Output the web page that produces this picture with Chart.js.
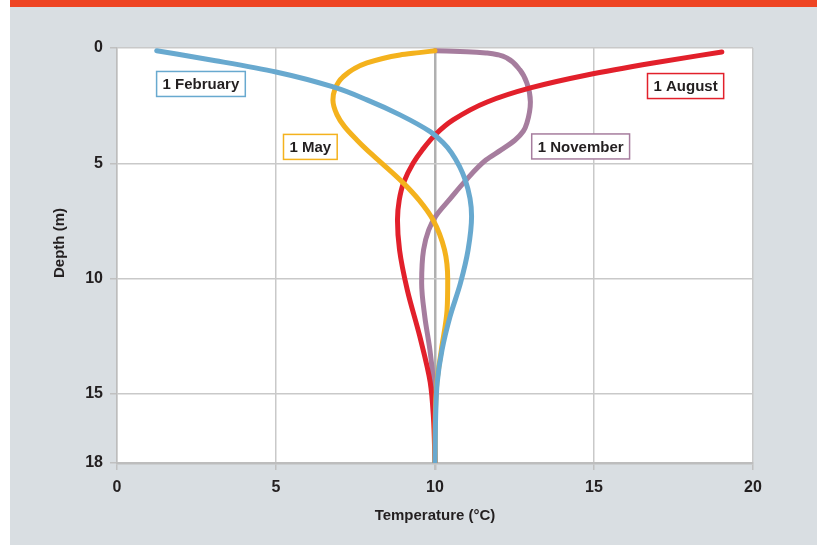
<!DOCTYPE html>
<html>
<head>
<meta charset="utf-8">
<script src="https://cdn.jsdelivr.net/npm/chart.js@4.4.1/dist/chart.umd.min.js"></script>
<style>
  html, body { margin: 0; padding: 0; background: #ffffff; }
  #wrap { width: 817px; height: 545px; position: relative; }
</style>
</head>
<body>
<div id="wrap"><canvas id="c" width="817" height="545"></canvas></div>
<script>
// ---- Data (temperature in °C vs depth in m) ----
const depthFeb = [0.12, 0.55, 1.04, 1.69, 2.25, 2.9, 3.64, 4.1, 4.55, 5.72, 7.3, 8.76, 10.2, 11.66, 13.1, 14.5, 16.0, 18.0];
const tempFeb  = [1.25, 3.1, 5.0, 6.8, 7.86, 8.9, 9.86, 10.25, 10.52, 10.95, 11.15, 11.04, 10.8, 10.47, 10.22, 10.07, 10.02, 10.0];

const depthMay = [0.12, 0.2, 0.3, 0.65, 1.26, 1.8, 2.25, 2.9, 3.4, 4.0, 4.42, 5.0, 5.85, 6.6, 7.46, 8.76, 10.06, 11.36, 13.1, 14.5, 16.0, 18.0];
const tempMay  = [10.0, 9.5, 8.9, 7.86, 7.1, 6.85, 6.79, 6.92, 7.15, 7.55, 7.86, 8.33, 9.0, 9.5, 9.94, 10.3, 10.4, 10.38, 10.2, 10.06, 10.01, 10.0];

const depthAug = [0.17, 0.65, 1.17, 1.73, 2.34, 3.12, 3.77, 4.42, 5.0, 5.85, 6.6, 7.46, 8.76, 10.5, 12.5, 14.5, 16.0, 18.0];
const tempAug  = [19.02, 16.86, 14.78, 13.0, 11.64, 10.57, 10.0, 9.6, 9.31, 9.01, 8.875, 8.82, 8.885, 9.13, 9.52, 9.85, 9.95, 10.0];

const depthNov = [0.12, 0.16, 0.22, 0.3, 0.43, 0.95, 1.52, 2.34, 3.25, 3.6, 3.99, 4.42, 4.86, 5.85, 6.5, 7.3, 7.9, 8.76, 10.2, 11.66, 13.1, 14.5, 16.0, 18.0];
const tempNov  = [10.0, 11.0, 11.64, 12.0, 12.26, 12.67, 12.89, 13.0, 12.89, 12.78, 12.52, 12.08, 11.6, 10.9, 10.5, 10.02, 9.8, 9.64, 9.58, 9.68, 9.84, 9.95, 9.99, 10.0];

const seriesNames = ['1 February', '1 May', '1 August', '1 November'];
const xTicks = [0, 5, 10, 15, 20];
const yTicks = [0, 5, 10, 15, 18];
// label anchor points in data units (temperature, depth)
const labelTemp  = [2.64, 6.08, 17.88, 14.58];
const labelDepth = [1.56, 4.29, 1.65, 4.27];

const colors = ['#68a9cf', '#f4b21d', '#e2202b', '#a67d9e'];
const TEXT = '#231f20';
const FONT = '"Liberation Sans", Arial, sans-serif';

function pts(t, d) { return t.map((v, i) => ({ x: v, y: d[i] })); }

const bgPlugin = {
  id: 'bg',
  beforeDraw(chart) {
    const { ctx, width, height, chartArea: a } = chart;
    ctx.save();
    ctx.fillStyle = '#ffffff';
    ctx.fillRect(0, 0, width, height);
    ctx.fillStyle = '#d9dee2';
    ctx.fillRect(10, 0, width - 10, height);
    ctx.fillStyle = '#ee4423';
    ctx.fillRect(10, 0, width - 10, 7);
    ctx.fillStyle = '#ffffff';
    ctx.fillRect(a.left, a.top, a.right - a.left, a.bottom - a.top);
    ctx.restore();
  },
  afterDraw(chart) {
    const { ctx } = chart;
    ctx.save();
    ctx.translate(60, 243);
    ctx.rotate(-Math.PI / 2);
    ctx.font = 'bold 15px ' + FONT;
    ctx.fillStyle = TEXT;
    ctx.textAlign = 'center';
    ctx.textBaseline = 'middle';
    ctx.fillText('Depth (m)', 0, 0);
    ctx.restore();
  }
};

const labelPlugin = {
  id: 'lbls',
  afterDatasetsDraw(chart) {
    const { ctx, scales } = chart;
    ctx.save();
    ctx.font = 'bold 15px ' + FONT;
    ctx.textAlign = 'center';
    ctx.textBaseline = 'middle';
    seriesNames.forEach((name, i) => {
      const cx = scales.x.getPixelForValue(labelTemp[i]);
      const cy = scales.y.getPixelForValue(labelDepth[i]);
      const w = ctx.measureText(name).width + 12;
      const h = 25;
      ctx.fillStyle = '#ffffff';
      ctx.fillRect(cx - w / 2, cy - h / 2, w, h);
      ctx.strokeStyle = colors[i];
      ctx.lineWidth = 1.5;
      ctx.strokeRect(cx - w / 2, cy - h / 2, w, h);
      ctx.fillStyle = TEXT;
      ctx.fillText(name, cx, cy + 1);
    });
    ctx.restore();
  }
};

const dsBase = { showLine: true, pointRadius: 0, borderWidth: 5, indexAxis: 'y', cubicInterpolationMode: 'monotone', fill: false, borderCapStyle: 'round', borderJoinStyle: 'round' };

new Chart(document.getElementById('c'), {
  type: 'scatter',
  data: {
    datasets: [
      Object.assign({ label: seriesNames[0], data: pts(tempFeb, depthFeb), borderColor: colors[0] }, dsBase),
      Object.assign({ label: seriesNames[1], data: pts(tempMay, depthMay), borderColor: colors[1] }, dsBase),
      Object.assign({ label: seriesNames[2], data: pts(tempAug, depthAug), borderColor: colors[2] }, dsBase),
      Object.assign({ label: seriesNames[3], data: pts(tempNov, depthNov), borderColor: colors[3] }, dsBase)
    ]
  },
  options: {
    responsive: false,
    animation: false,
    devicePixelRatio: 1,
    indexAxis: 'y',
    layout: { padding: { left: 0, top: 48, right: 64, bottom: 20 } },
    plugins: { legend: { display: false }, tooltip: { enabled: false } },
    scales: {
      x: {
        type: 'linear', position: 'bottom', min: 0, max: 20,
        afterBuildTicks(s) { s.ticks = xTicks.map(v => ({ value: v })); },
        afterFit(s) { s.height = 62; },
        ticks: { color: TEXT, font: { family: FONT, size: 16, weight: 'bold' }, padding: 8, maxRotation: 0 },
        grid: {
          color: c => (c.tick && c.tick.value === 10 ? '#b0b0b0' : '#c9c9c9'),
          lineWidth: c => (c.tick && c.tick.value === 10 ? 2.5 : 1.5),
          tickColor: '#c0c0c0', tickLength: 7, drawTicks: true
        },
        border: { color: '#bdbdbd', width: 2.5 },
        title: { display: true, text: 'Temperature (°C)', color: TEXT, font: { family: FONT, size: 15, weight: 'bold' }, padding: { top: 0, bottom: 0 } }
      },
      y: {
        type: 'linear', position: 'left', min: 0, max: 18, reverse: true,
        afterBuildTicks(s) { s.ticks = yTicks.map(v => ({ value: v })); },
        afterFit(s) { s.width = 117; },
        ticks: { color: TEXT, font: { family: FONT, size: 16, weight: 'bold' }, padding: 7 },
        grid: { color: '#c9c9c9', lineWidth: 1.5, tickColor: '#c0c0c0', tickLength: 7, drawTicks: true },
        border: { color: '#bdbdbd', width: 1.5 },
        title: { display: false }
      }
    }
  },
  plugins: [bgPlugin, labelPlugin]
});
</script>
</body>
</html>
